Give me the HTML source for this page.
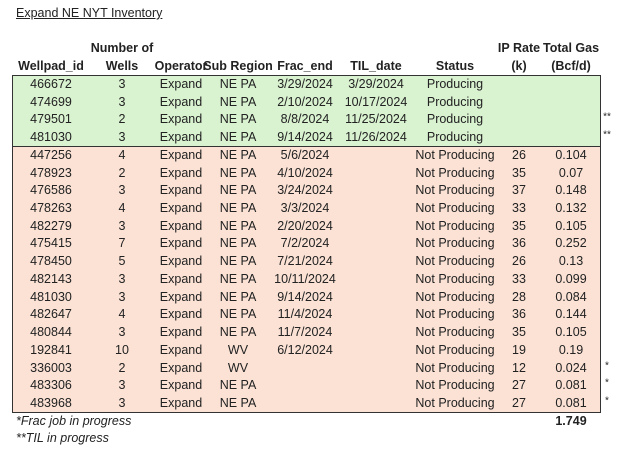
<!DOCTYPE html>
<html><head><meta charset="utf-8"><style>
body{margin:0;background:#fff;}
#wrap{position:relative;width:624px;height:452px;overflow:hidden;font-family:"Liberation Sans",sans-serif;font-size:12.5px;color:#222;}
.c{position:absolute;transform:translate(-50%,-50%);white-space:nowrap;}
.h{font-weight:bold;}
</style></head><body>
<div id="wrap">
<div class="c" style="left:16px;top:13px;transform:translateY(-50%);text-decoration:underline;">Expand NE NYT Inventory</div>
<div id="bg-green" style="position:absolute;left:12px;top:75px;width:588px;height:71px;background:#d9f2d0;"></div>
<div id="bg-pink" style="position:absolute;left:12px;top:146px;width:588px;height:266px;background:#fbe2d5;"></div>
<div style="position:absolute;left:12px;top:75px;width:587px;height:336px;border:1px solid #333;"></div>
<div style="position:absolute;left:12px;top:146px;width:589px;height:1px;background:#333;"></div>
<div class="c" style="left:16px;top:421px;transform:translateY(-50%);font-style:italic;">*Frac job in progress</div>
<div class="c" style="left:16px;top:438px;transform:translateY(-50%);font-style:italic;">**TIL in progress</div>
<div class="c h" style="left:571px;top:421px;">1.749</div>
</div>
<script>
const colX=[51,122,181,238,305,376,455,519,571];
const head1=["","Number of","","","","","","IP Rate","Total Gas"];
const head2=["Wellpad_id","Wells","Operator","Sub Region","Frac_end","TIL_date","Status","(k)","(Bcf/d)"];
const ids=["466672","474699","479501","481030","447256","478923","476586","478263","482279","475415","478450","482143","481030","482647","480844","192841","336003","483306","483968"];
const wells=["3","3","2","3","4","2","3","4","3","7","5","3","3","4","3","10","2","3","3"];
const subs=["NE PA","NE PA","NE PA","NE PA","NE PA","NE PA","NE PA","NE PA","NE PA","NE PA","NE PA","NE PA","NE PA","NE PA","NE PA","WV","WV","NE PA","NE PA"];
const fracEnd=["3/29/2024","2/10/2024","8/8/2024","9/14/2024","5/6/2024","4/10/2024","3/24/2024","3/3/2024","2/20/2024","7/2/2024","7/21/2024","10/11/2024","9/14/2024","11/4/2024","11/7/2024","6/12/2024","","",""];
const tilDate=["3/29/2024","10/17/2024","11/25/2024","11/26/2024","","","","","","","","","","","","","","",""];
const ipRate=["","","","","26","35","37","33","35","36","26","33","28","36","35","19","12","27","27"];
const totalGas=["","","","","0.104","0.07","0.148","0.132","0.105","0.252","0.13","0.099","0.084","0.144","0.105","0.19","0.024","0.081","0.081"];
const marks=["","","**","**","","","","","","","","","","","","","*","*","*"];
const wrap=document.getElementById('wrap');
function cell(x,y,t,cls){const d=document.createElement('div');d.className='c '+(cls||'');d.style.left=x+'px';d.style.top=y+'px';d.textContent=t;wrap.appendChild(d);return d;}
for(let i=0;i<9;i++){
 if(head1[i]){const a=cell(colX[i],48,head1[i],'h');
 
 }
 const b=cell(colX[i],66,head2[i],'h');
 
 
}
const rowH=17.72;
for(let r=0;r<ids.length;r++){
 const y=84+r*rowH;
 const status=r<4?"Producing":"Not Producing";
 const vals=[ids[r],wells[r],"Expand",subs[r],fracEnd[r],tilDate[r],status,ipRate[r],totalGas[r]];
 for(let i=0;i<9;i++){
  if(!vals[i])continue;
  const d=cell(colX[i],y,vals[i]);
  
  
 }
 if(marks[r]){const m=cell(607,y-2,marks[r]);m.style.fontSize='10px';
  
  }
}
</script>
</body></html>
